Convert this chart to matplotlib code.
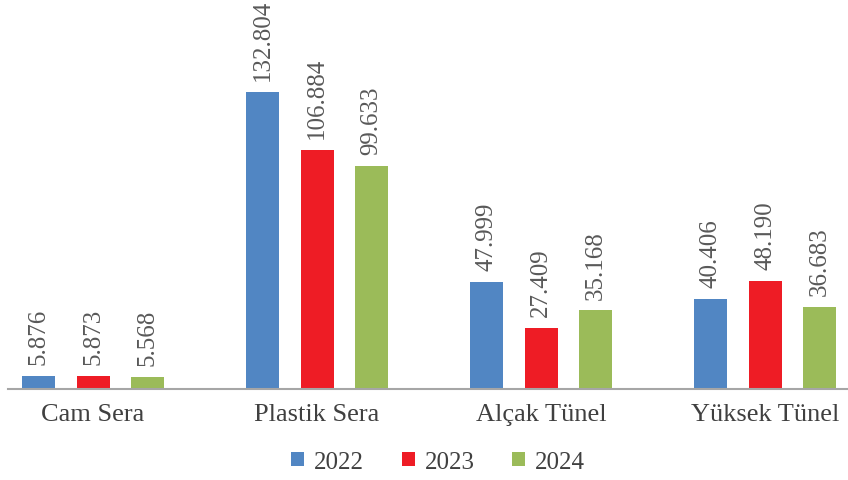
import matplotlib
matplotlib.use("Agg")
import matplotlib.pyplot as plt
import numpy as np

categories = ["Cam Sera", "Plastik Sera", "Alçak Tünel", "Yüksek Tünel"]
years = ["2022", "2023", "2024"]
values_2022 = [5.876, 132.804, 47.999, 40.406]
values_2023 = [5.873, 106.884, 27.409, 48.190]
values_2024 = [5.568, 99.633, 35.168, 36.683]
labels_2022 = ["5.876", "132.804", "47.999", "40.406"]
labels_2023 = ["5.873", "106.884", "27.409", "48.190"]
labels_2024 = ["5.568", "99.633", "35.168", "36.683"]

series = [values_2022, values_2023, values_2024]
series_labels = [labels_2022, labels_2023, labels_2024]
colors = ["#5186C3", "#EE1C25", "#9BBB59"]

plt.rcParams['font.family'] = ['Liberation Serif', 'DejaVu Serif']

fig = plt.figure(figsize=(8.48, 4.81), dpi=100)
ax = fig.add_axes([8/848, 91/481, 1 - 8/848, 390/481])

x = np.arange(len(categories))
step = 0.243
width = 0.148
for i, (vals, labs, c, yr) in enumerate(zip(series, series_labels, colors, years)):
    pos = x + (i - 1) * step
    ax.bar(pos, vals, width=width, color=c, label=yr, zorder=2)
    for p, v, l in zip(pos, vals, labs):
        ax.annotate(l, (p, v), xytext=(0, 8.5), textcoords="offset points",
                    rotation=90, ha="center", va="bottom", fontsize=18,
                    color="#595959")

ax.set_xlim(-0.38, 3.37)
ax.set_ylim(0, 390 / 2.236)
for s in ["top", "right", "left"]:
    ax.spines[s].set_visible(False)
ax.spines["bottom"].set_color("#A6A6A6")
ax.spines["bottom"].set_linewidth(1.5)
ax.set_yticks([])
ax.set_xticks(x)
ax.set_xticklabels(categories, fontsize=19, color="#404040")
ax.tick_params(axis="x", length=0, pad=10)

handles, lbls = ax.get_legend_handles_labels()
fig.legend(handles, lbls, loc="center", bbox_to_anchor=(438/848, 1 - 463/481),
           ncol=3, frameon=False, fontsize=18, handlelength=0.52, handleheight=0.52,
           columnspacing=1.5, handletextpad=0.4, labelcolor="#404040")

fig.savefig("out.png", dpi=100)
